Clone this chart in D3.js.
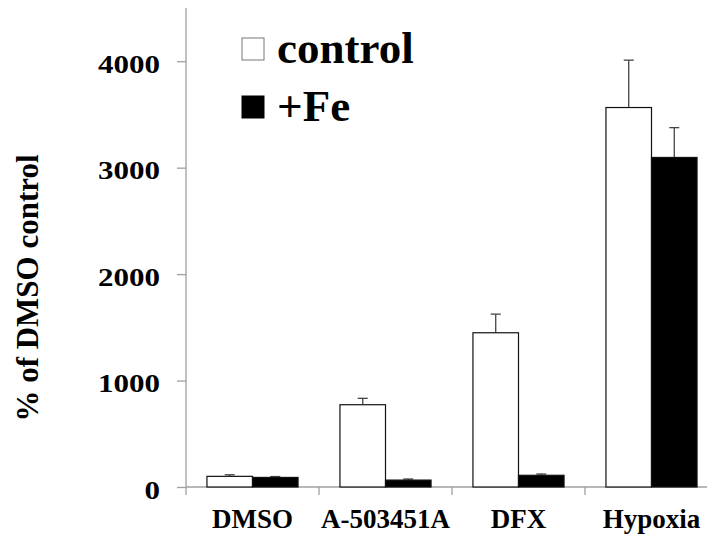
<!DOCTYPE html>
<html>
<head>
<meta charset="utf-8" />
<title>% of DMSO control</title>
<script src="https://d3js.org/d3.v7.min.js"></script>
<style>
    body { margin: 0; background: #fff; }
</style>
</head>
<body>
<div id="chart"></div>
<script>
    // data
    var categories = ["DMSO", "A-503451A", "DFX", "Hypoxia"];
    var seriesNames = ["control", "+Fe"];
    var controlValues = [100, 773, 1449, 3565];
    var controlErrors = [15, 60, 175, 445];
    var feValues = [90, 65, 110, 3096];
    var feErrors = [8, 10, 12, 280];
    var yTicks = [0, 1000, 2000, 3000, 4000];

    var width = 707, height = 536;
    var serif = "Liberation Serif";
    var svg = d3.select("#chart").append("svg")
        .attr("width", width)
        .attr("height", height);

    var x0 = d3.scaleBand().domain(categories).range([186, 718]).padding(0);
    var x1 = d3.scaleBand().domain(seriesNames).range([0, x0.bandwidth()])
        .paddingInner(0).paddingOuter(0.46);
    var y = d3.scaleLinear().domain([0, 4500]).range([487, 8]);

    var axisColor = "#a0a0a0";

    // y axis (labels in the figure are a bit stretched sideways)
    var yAxis = svg.append("g")
        .attr("transform", "translate(186,0)")
        .call(d3.axisLeft(y).tickValues(yTicks).tickSize(9).tickPadding(17).tickFormat(d3.format("d")));
    yAxis.attr("font-family", serif).attr("font-weight", "bold").attr("font-size", 26);
    yAxis.select(".domain").remove();
    yAxis.selectAll(".tick line").attr("stroke", axisColor).attr("stroke-width", 1.3);
    yAxis.selectAll(".tick text")
        .attr("dy", "11px")
        .attr("textLength", function (d) { return String(d).length * 15.5; })
        .attr("lengthAdjust", "spacingAndGlyphs");
    svg.append("line")
        .attr("x1", 186).attr("x2", 186)
        .attr("y1", y(4500)).attr("y2", 495)
        .attr("stroke", axisColor).attr("stroke-width", 1.3);

    // x axis
    svg.append("line")
        .attr("x1", 186).attr("x2", 718)
        .attr("y1", y(0)).attr("y2", y(0))
        .attr("stroke", axisColor).attr("stroke-width", 1.3);
    svg.selectAll("line.xtick")
        .data(categories.slice(1).concat(["end"]))
        .enter().append("line")
        .attr("class", "xtick")
        .attr("x1", function (d, i) { return 186 + (i + 1) * x0.step(); })
        .attr("x2", function (d, i) { return 186 + (i + 1) * x0.step(); })
        .attr("y1", y(0)).attr("y2", 495)
        .attr("stroke", axisColor).attr("stroke-width", 1.3);
    var xAxis = svg.append("g")
        .attr("transform", "translate(0," + y(0) + ")")
        .call(d3.axisBottom(x0).tickSize(0).tickPadding(0));
    xAxis.attr("font-family", serif).attr("font-weight", "bold").attr("font-size", 27);
    xAxis.select(".domain").remove();
    xAxis.selectAll(".tick text").attr("dy", "41px");

    // bars
    var rows = categories.map(function (c, i) {
        return [
            { cat: c, s: "control", v: controlValues[i], e: controlErrors[i] },
            { cat: c, s: "+Fe", v: feValues[i], e: feErrors[i] }
        ];
    });
    var groups = svg.selectAll("g.cat")
        .data(rows)
        .enter().append("g")
        .attr("class", "cat")
        .attr("transform", function (d) { return "translate(" + x0(d[0].cat) + ",0)"; });

    // error bars first so bars sit over the stems
    groups.selectAll("g.err")
        .data(function (d) { return d; })
        .enter().append("g")
        .attr("class", "err")
        .each(function (d) {
            var cx = x1(d.s) + x1.bandwidth() / 2;
            var g = d3.select(this);
            g.append("line")
                .attr("x1", cx).attr("x2", cx)
                .attr("y1", y(d.v)).attr("y2", y(d.v + d.e))
                .attr("stroke", "#444").attr("stroke-width", 1.3);
            g.append("line")
                .attr("x1", cx - 5).attr("x2", cx + 5)
                .attr("y1", y(d.v + d.e)).attr("y2", y(d.v + d.e))
                .attr("stroke", "#444").attr("stroke-width", 1.3);
        });

    groups.selectAll("rect")
        .data(function (d) { return d; })
        .enter().append("rect")
        .attr("x", function (d) { return x1(d.s); })
        .attr("width", x1.bandwidth())
        .attr("y", function (d) { return y(d.v); })
        .attr("height", function (d) { return y(0) - y(d.v); })
        .attr("fill", function (d) { return d.s === "control" ? "#fff" : "#000"; })
        .attr("stroke", "#111")
        .attr("stroke-width", 1.2);

    // legend
    var legend = svg.selectAll("g.legend")
        .data(seriesNames)
        .enter().append("g")
        .attr("class", "legend")
        .attr("transform", function (d, i) { return "translate(242," + (38 + i * 58) + ")"; });
    legend.append("rect")
        .attr("width", 22).attr("height", 22)
        .attr("fill", function (d, i) { return i === 0 ? "#fff" : "#000"; })
        .attr("stroke", function (d, i) { return i === 0 ? "#777" : "#000"; })
        .attr("stroke-width", 1);
    legend.append("text")
        .attr("x", 35)
        .attr("y", 25)
        .attr("font-family", serif)
        .attr("font-weight", "bold")
        .attr("font-size", 45)
        .text(function (d) { return d; });

    // y title
    svg.append("text")
        .attr("transform", "translate(38,288) rotate(-90)")
        .attr("text-anchor", "middle")
        .attr("font-family", serif)
        .attr("font-weight", "bold")
        .attr("font-size", 31)
        .text("% of DMSO control");
</script>
</body>
</html>
